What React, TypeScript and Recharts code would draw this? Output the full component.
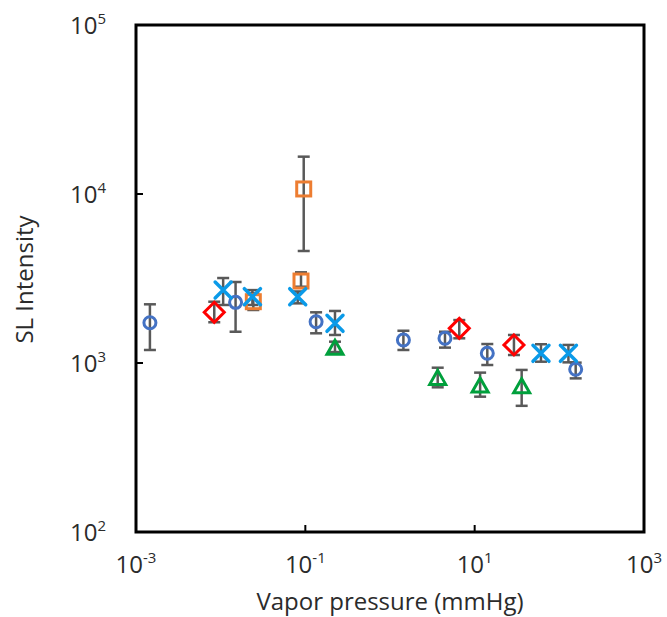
import { ErrorBar, Label, ReferenceArea, Scatter, ScatterChart, XAxis, YAxis } from "recharts";

// each point: [vapor pressure (mmHg), SL intensity, lower end of bar, upper end of bar]
const circles = [
  [0.00146, 1730, 1194, 2225],
  [0.015, 2285, 1531, 3015],
  [0.134, 1754, 1499, 1995],
  [1.44, 1368, 1194, 1552],
  [4.46, 1400, 1233, 1531],
  [14.1, 1141, 973, 1295],
  [156, 918, 811, 1005],
];
const diamonds = [
  [0.0084, 1995, 1742, 2305],
  [6.58, 1603, 1400, 1795],
  [29.1, 1279, 1115, 1465],
];
const squares = [
  [0.0243, 2305, 2059, 2582],
  [0.0957, 10710, 4600, 16630],
  [0.0889, 3055, 2827, 3440],
];
const triangles = [
  [0.224, 1222, 1161, 1337],
  [3.66, 811, 718, 938],
  [11.6, 731, 632, 877],
  [35.9, 724, 558, 910],
];
const crosses = [
  [0.0107, 2704, 2205, 3183],
  [0.0237, 2467, 2205, 2700],
  [0.0813, 2467, 2254, 2650],
  [0.224, 1718, 1465, 2032],
  [60.7, 1141, 1018, 1291],
  [128, 1141, 1009, 1279],
];

const xTicks = [0.001, 0.1, 10, 1000];
const yTicks = [100, 1000, 10000, 100000];

const font = "'Open Sans', sans-serif";
const textColor = "#2b2b2b";

const toRows = (pts: number[][]) =>
  pts.map(([x, y, lo, hi]) => ({ x, y, err: [y - lo, hi - y] }));

const Circle = (p: any) => <circle cx={p.cx} cy={p.cy} r={6} fill="none" stroke="#4472C4" strokeWidth={3} />;
const Diamond = (p: any) => (
  <path d={`M${p.cx},${p.cy - 10}L${p.cx + 10},${p.cy}L${p.cx},${p.cy + 10}L${p.cx - 10},${p.cy}Z`} fill="none" stroke="#FF0000" strokeWidth={3} />
);
const Square = (p: any) => <rect x={p.cx - 7} y={p.cy - 7} width={14} height={14} fill="none" stroke="#ED7D31" strokeWidth={3} />;
const Triangle = (p: any) => (
  <path d={`M${p.cx},${p.cy - 8}L${p.cx + 8},${p.cy + 6}L${p.cx - 8},${p.cy + 6}Z`} fill="none" stroke="#00A03C" strokeWidth={3} />
);
const Cross = (p: any) => (
  <path d={`M${p.cx - 8},${p.cy - 8}L${p.cx + 8},${p.cy + 8}M${p.cx + 8},${p.cy - 8}L${p.cx - 8},${p.cy + 8}`} stroke="#0A9AE8" strokeWidth={3.5} strokeLinecap="round" />
);

const XTick = ({ x, y, payload }: any) => (
  <text x={x} y={y + 41} textAnchor="middle" fontSize={24} fontFamily={font} fill={textColor}>
    10<tspan dy={-10} fontSize={15}>{Math.round(Math.log10(payload.value))}</tspan>
  </text>
);

const YTick = ({ x, y, payload }: any) => (
  <text x={x - 30} y={y + 9} textAnchor="end" fontSize={24} fontFamily={font} fill={textColor}>
    10<tspan dy={-10} fontSize={15}>{Math.round(Math.log10(payload.value))}</tspan>
  </text>
);

const bar = { dataKey: "err", direction: "y" as const, width: 6, stroke: "#595959", strokeWidth: 2.5 };

export default function App() {
  return (
    <div style={{ position: "absolute", left: 0, top: 0, width: 667, height: 617, overflow: "hidden" }}>
      <ScatterChart width={667} height={617} margin={{ top: 25, right: 23, left: 0, bottom: 0 }}>
        <XAxis
          type="number"
          dataKey="x"
          scale="log"
          domain={[0.001, 1000]}
          ticks={xTicks}
          height={85}
          axisLine={false}
          tickSize={-7}
          tickMargin={7}
          tickLine={{ stroke: "#000", strokeWidth: 2 }}
          tick={<XTick />}
        >
          <Label
            content={({ viewBox }: any) => (
              <text x={viewBox.x + viewBox.width / 2} y={610} textAnchor="middle" fontSize={24} fontFamily={font} fill={textColor}>
                Vapor pressure (mmHg)
              </text>
            )}
          />
        </XAxis>
        <YAxis
          type="number"
          dataKey="y"
          scale="log"
          domain={[100, 100000]}
          ticks={yTicks}
          width={136}
          axisLine={false}
          tickSize={-7}
          tickMargin={7}
          tickLine={{ stroke: "#000", strokeWidth: 2 }}
          tick={<YTick />}
        >
          <Label
            content={({ viewBox }: any) => (
              <text
                transform={`translate(33, ${viewBox.y + viewBox.height / 2 + 1}) rotate(-90)`}
                textAnchor="middle"
                fontSize={24}
                fontFamily={font}
                fill={textColor}
              >
                SL Intensity
              </text>
            )}
          />
        </YAxis>
        <Scatter data={toRows(circles)} shape={Circle} isAnimationActive={false}>
          <ErrorBar {...bar} />
        </Scatter>
        <Scatter data={toRows(diamonds)} shape={Diamond} isAnimationActive={false}>
          <ErrorBar {...bar} />
        </Scatter>
        <Scatter data={toRows(squares)} shape={Square} isAnimationActive={false}>
          <ErrorBar {...bar} />
        </Scatter>
        <Scatter data={toRows(triangles)} shape={Triangle} isAnimationActive={false}>
          <ErrorBar {...bar} />
        </Scatter>
        <Scatter data={toRows(crosses)} shape={Cross} isAnimationActive={false}>
          <ErrorBar {...bar} />
        </Scatter>
        <ReferenceArea x1={0.001} x2={1000} y1={100} y2={100000} fill="none" stroke="#000" strokeWidth={3} />
      </ScatterChart>
    </div>
  );
}
